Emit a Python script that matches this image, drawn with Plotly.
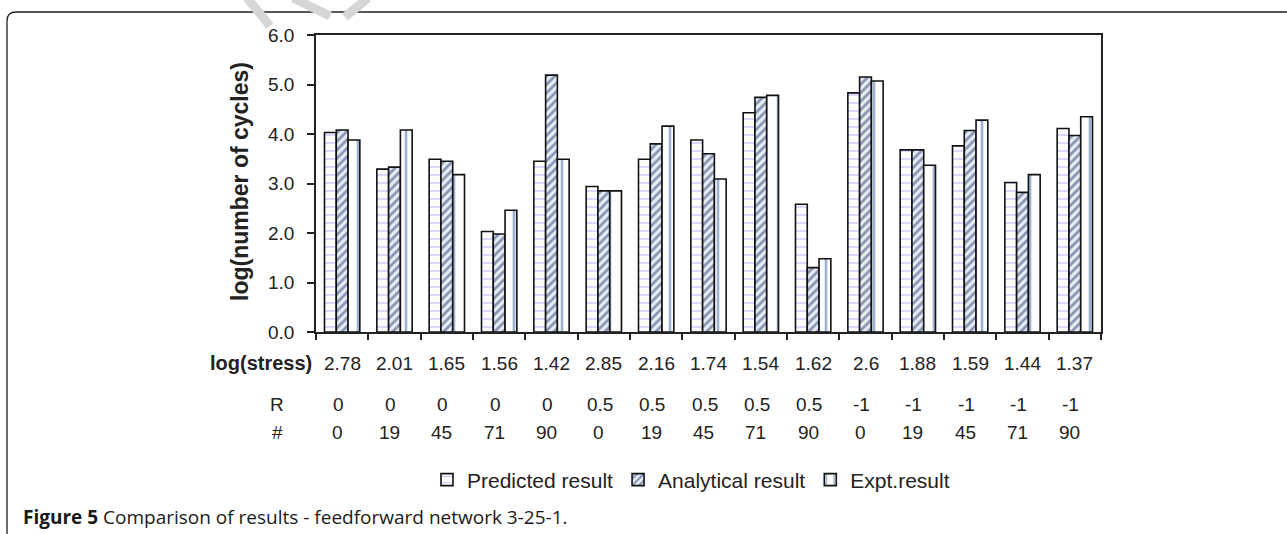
import plotly.graph_objects as go

# ---- data ----
stress = ["2.78", "2.01", "1.65", "1.56", "1.42", "2.85", "2.16", "1.74",
          "1.54", "1.62", "2.6", "1.88", "1.59", "1.44", "1.37"]
r_vals = ["0", "0", "0", "0", "0", "0.5", "0.5", "0.5", "0.5", "0.5",
          "-1", "-1", "-1", "-1", "-1"]
angles = ["0", "19", "45", "71", "90", "0", "19", "45", "71", "90",
          "0", "19", "45", "71", "90"]
predicted = [4.03, 3.29, 3.49, 2.03, 3.45, 2.94, 3.49, 3.88, 4.43, 2.58,
             4.83, 3.68, 3.76, 3.02, 4.11]
analytical = [4.08, 3.33, 3.45, 1.98, 5.19, 2.85, 3.80, 3.60, 4.74, 1.30,
              5.15, 3.68, 4.07, 2.82, 3.97]
expt = [3.88, 4.08, 3.18, 2.46, 3.49, 2.85, 4.16, 3.09, 4.78, 1.48,
        5.07, 3.37, 4.28, 3.18, 4.35]
y_ticks = [0, 1, 2, 3, 4, 5, 6]

W, H = 1287, 534
L, R_, T, B = 316, 1101, 35, 332   # plot area in px
PW, PH = R_ - L, B - T


def px(xp):
    return (xp - L) / PW


def py(yp):
    return (B - yp) / PH


FONT = "Liberation Sans, Arial, sans-serif"
TXT = "#222222"
cats = [f"g{i}" for i in range(len(stress))]
outline = dict(color="#111111", width=1.6)

fig = go.Figure()
fig.add_trace(go.Bar(
    x=cats, y=predicted, name="Predicted result",
    marker=dict(color="white", line=outline,
                pattern=dict(shape="-", fgcolor="#8a8aff", bgcolor="white",
                             size=8, solidity=0.16, fillmode="overlay")),
))
fig.add_trace(go.Bar(
    x=cats, y=analytical, name="Analytical result",
    marker=dict(color="#e6edf7", line=outline,
                pattern=dict(shape="/", fgcolor="#27396a", bgcolor="#e6edf7",
                             size=6, solidity=0.45, fillmode="overlay")),
))
fig.add_trace(go.Bar(
    x=cats, y=expt, name="Expt.result",
    marker=dict(color="white", line=outline,
                pattern=dict(shape="|", fgcolor="#3f639e", bgcolor="white",
                             size=12, solidity=0.22, fillmode="overlay")),
))

annotations = []
# y-axis title
annotations.append(dict(
    text="<b>log(number of cycles)</b>", textangle=-90,
    xref="paper", yref="paper", x=px(240), y=py(182),
    xanchor="center", yanchor="middle", showarrow=False,
    font=dict(family=FONT, size=23, color=TXT)))
# data-table rows
annotations.append(dict(
    text="<b>log(stress)</b>", xref="paper", yref="paper",
    x=px(314), y=py(363), xanchor="right", yanchor="middle",
    showarrow=False, font=dict(family=FONT, size=20, color=TXT)))
annotations.append(dict(
    text="R", xref="paper", yref="paper", x=px(277), y=py(404),
    xanchor="center", yanchor="middle", showarrow=False,
    font=dict(family=FONT, size=19, color=TXT)))
annotations.append(dict(
    text="#", xref="paper", yref="paper", x=px(277), y=py(432),
    xanchor="center", yanchor="middle", showarrow=False,
    font=dict(family=FONT, size=19, color=TXT)))
for c, s, rv, a in zip(cats, stress, r_vals, angles):
    annotations.append(dict(
        text=s, xref="x", yref="paper", x=c, y=py(363),
        xanchor="center", yanchor="middle", showarrow=False,
        font=dict(family=FONT, size=19, color=TXT)))
    annotations.append(dict(
        text=rv, xref="x", yref="paper", x=c, y=py(404), xshift=-4,
        xanchor="center", yanchor="middle", showarrow=False,
        font=dict(family=FONT, size=19, color=TXT)))
    annotations.append(dict(
        text=a, xref="x", yref="paper", x=c, y=py(432), xshift=-5,
        xanchor="center", yanchor="middle", showarrow=False,
        font=dict(family=FONT, size=19, color=TXT)))
# caption
annotations.append(dict(
    text="<b>Figure 5</b> Comparison of results - feedforward network 3-25-1.",
    xref="paper", yref="paper", x=px(21), y=py(517),
    xanchor="left", yanchor="middle", showarrow=False,
    font=dict(family="Open Sans, Noto Sans, sans-serif", size=19, color="#1a1a1a")))

shapes = [
    # page frame (top line + left line with rounded corner)
    dict(type="path", xref="paper", yref="paper",
         path=(f"M {px(1290)},{py(12)} L {px(16)},{py(12)} "
               f"Q {px(7)},{py(12)} {px(7)},{py(21)} L {px(7)},{py(540)}"),
         line=dict(color="#222222", width=1.3)),
    # faint watermark fragments
    dict(type="line", xref="paper", yref="paper",
         x0=px(247), y0=py(-2), x1=px(270), y1=py(26),
         line=dict(color="#d6d6d6", width=9)),
    dict(type="line", xref="paper", yref="paper",
         x0=px(293), y0=py(-2), x1=px(330), y1=py(16),
         line=dict(color="#d6d6d6", width=9)),
    dict(type="line", xref="paper", yref="paper",
         x0=px(345), y0=py(17), x1=px(368), y1=py(-2),
         line=dict(color="#d6d6d6", width=9)),
]

fig.update_layout(
    width=W, height=H, autosize=False,
    margin=dict(l=L, r=W - R_, t=T, b=H - B, pad=0),
    paper_bgcolor="white", plot_bgcolor="white",
    barmode="group", bargap=0.325, bargroupgap=0,
    font=dict(family=FONT, color=TXT),
    showlegend=True,
    legend=dict(orientation="h", xanchor="center", yanchor="middle",
                x=px(691), y=py(480), font=dict(family=FONT, size=21, color=TXT),
                itemwidth=30, tracegroupgap=0, bgcolor="rgba(0,0,0,0)"),
    annotations=annotations, shapes=shapes,
)
fig.update_xaxes(
    type="category", showticklabels=False, tickson="boundaries",
    ticks="outside", ticklen=6, tickwidth=1.5, tickcolor="#222",
    showline=True, linecolor="#222", linewidth=1.6, mirror=True,
    showgrid=False, zeroline=False)
fig.update_yaxes(
    range=[0, 6], tickvals=y_ticks, tickformat=".1f",
    ticks="outside", ticklen=7, tickwidth=1.5, tickcolor="#222",
    ticklabelstandoff=9,
    tickfont=dict(family=FONT, size=19, color=TXT),
    showline=True, linecolor="#222", linewidth=1.6, mirror=True,
    showgrid=False, zeroline=False)

fig.write_html("out.html")
